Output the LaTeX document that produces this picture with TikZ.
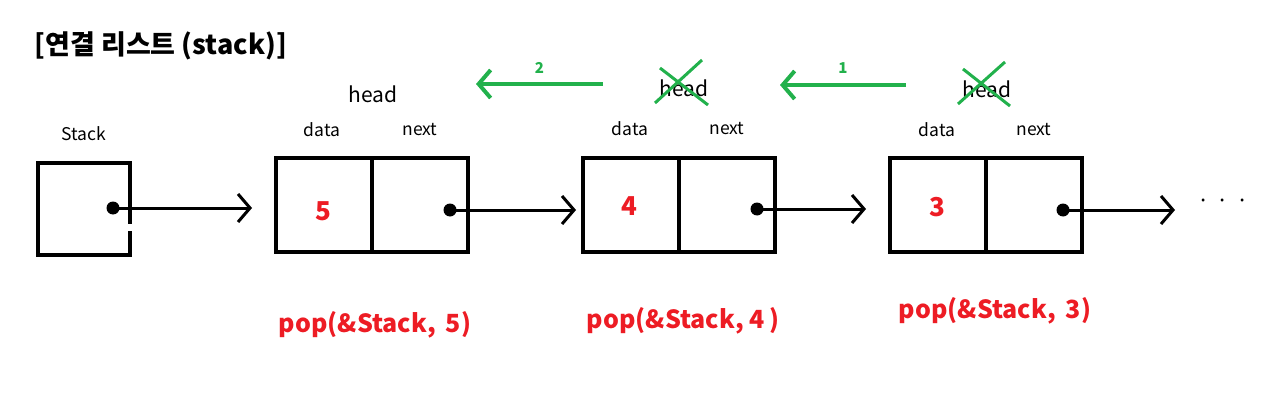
\documentclass[tikz,border=0pt]{standalone}
\usepackage{fontspec}
\setmainfont{Noto Sans CJK KR}
\usepackage{tikz}
\usetikzlibrary{arrows.meta,positioning}

\definecolor{paintred}{RGB}{237,28,36}
\definecolor{paintgreen}{RGB}{34,177,76}

\tikzset{
  cell/.style={draw, line width=4pt, outer sep=0pt, inner sep=0pt, minimum width=96pt, minimum height=94pt},
  ptr/.style={line width=3pt, -{Straight Barb[length=12pt, width=28pt, line width=3pt]}},
  dot/.style={circle, fill, inner sep=0pt, minimum size=13pt},
  lbl/.style={font=\fontsize{17.5}{20}\selectfont},
  num/.style={text=paintred, font=\fontsize{26}{29}\selectfont\bfseries},
  popcall/.style={text=paintred, font=\fontsize{25}{29}\selectfont\bfseries},
  back/.style={paintgreen, line width=4pt, -{Straight Barb[length=12pt, width=28pt, line width=4pt]}},
  strike/.style={paintgreen, line width=3pt},
  headlbl/.style={font=\fontsize{21}{24}\selectfont}
}

\begin{document}
\begin{tikzpicture}[x=1pt, y=-1pt]
\useasboundingbox (0,0) rectangle (1280,404);

\node[anchor=west, font=\fontsize{27}{31}\selectfont\bfseries] (title) at (31,46) {[연결 리스트 (stack)]};

% stack variable
\node[lbl] (stacklbl) at (84,134) {Stack};
\node[cell, minimum width=92pt, minimum height=92pt] (stackbox) at (83.5,208.5) {};
\node[dot] (p0) at (113,208) {};
\draw[white, line width=5pt] (129.5,224) -- (129.5,231);
\draw[ptr] (p0.center) -- ++(139,0);

% list nodes
\node[cell] (d5) at (324,205) {}; \node[cell, right=0pt of d5] (n5) {};
\node[cell] (d4) at (631,205) {}; \node[cell, right=0pt of d4] (n4) {};
\node[cell] (d3) at (938,205) {}; \node[cell, right=0pt of d3] (n3) {};

\node[num] at (323,211) {5};
\node[num] at (629,206) {4};
\node[num] at (937,207) {3};

\node[lbl] at (322,130) {data}; \node[lbl] at (420,130) {next};
\node[lbl] at (630,129) {data}; \node[lbl] at (727,129) {next};
\node[lbl] at (937,130) {data}; \node[lbl] at (1034,130) {next};

\node[dot] (p5) at (450,210) {};
\node[dot] (p4) at (757,209) {};
\node[dot] (p3) at (1063,210) {};
\coordinate (tail) at (1175,210);
\draw[ptr, shorten >=7pt] (p5.center) -- (p5.center -| d4.west);
\draw[ptr, shorten >=24pt] (p4.center) -- (p4.center -| d3.west);
\draw[ptr] (p3.center) -- (tail);
\node[font=\fontsize{22}{24}\selectfont] (more) at (1223,204) {·\,\,·\,\,·};

% head moves
\node[headlbl] (head5) at (373,94) {head};
\node[headlbl] (head4) at (684,88) {head};
\node[headlbl] (head3) at (987,89) {head};
\draw[strike] (660,68) -- (708,105);
\draw[strike] (702,60) -- (655,103);
\draw[strike] (963,69) -- (1010,106);
\draw[strike] (1005,62) -- (958,104);

\coordinate (g1s) at (906,85); \coordinate (g1e) at (780,85);
\coordinate (g2s) at (603,84); \coordinate (g2e) at (476,84);
\draw[back] (g1s) -- (g1e) node[midway, above=6pt, text=paintgreen, font=\fontsize{15}{17}\selectfont\bfseries] {1};
\draw[back] (g2s) -- (g2e) node[midway, above=5pt, text=paintgreen, font=\fontsize{15}{17}\selectfont\bfseries] {2};

% pop calls
\node[popcall] (pop5) at (375,325) {pop(\&Stack,\, 5)};
\node[popcall] (pop4) at (683,321) {pop(\&Stack, 4\,)};
\node[popcall] (pop3) at (995,311) {pop(\&Stack,\, 3)};
\end{tikzpicture}
\end{document}
